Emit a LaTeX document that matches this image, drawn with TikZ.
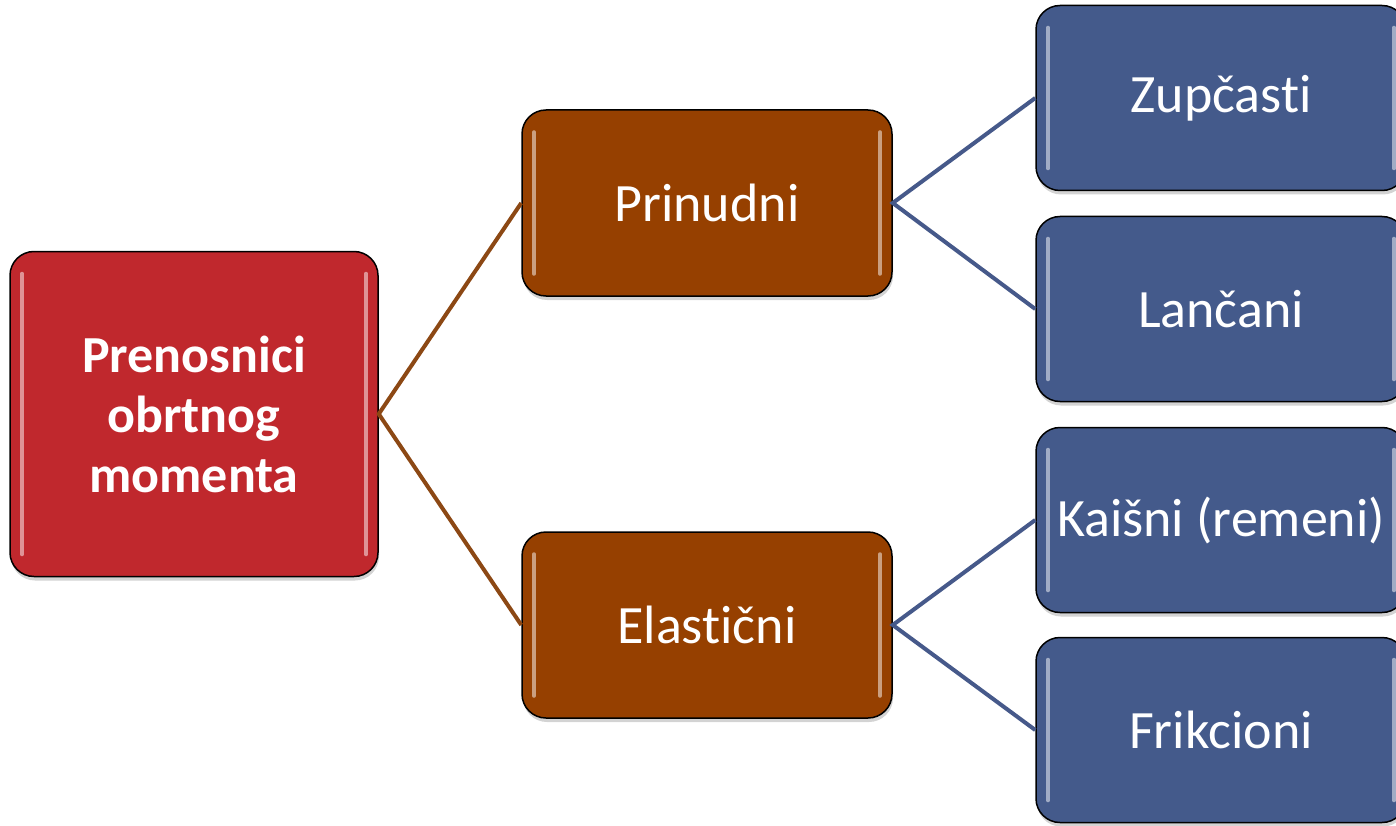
\documentclass[tikz,border=0pt]{standalone}
\usepackage{fontspec}
\setmainfont{Carlito}
\usetikzlibrary{shadows}
\newcommand{\tisep}{t\kern0pt i}
\definecolor{rootred}{RGB}{192,40,45}
\definecolor{midbrown}{RGB}{150,64,0}
\definecolor{leafblue}{RGB}{68,90,139}
\definecolor{linkbrown}{RGB}{140,72,20}
\definecolor{linkblue}{RGB}{70,89,138}
\begin{document}
\begin{tikzpicture}
[x=1pt, y=-1pt,
 box/.style={draw=black, line width=1.5pt, rounded corners=24pt, text=white, align=center,
   font=\fontsize{54}{60}\selectfont, inner sep=0pt,
   drop shadow={opacity=0.35, shadow xshift=1pt, shadow yshift=-4pt},
   path picture={
     \draw[white, opacity=0.5, line width=3.5pt, line cap=round]
       ([xshift=12pt, yshift=-22pt]path picture bounding box.north west) --
       ([xshift=12pt, yshift=22pt]path picture bounding box.south west);
     \draw[white, opacity=0.5, line width=3.5pt, line cap=round]
       ([xshift=-12pt, yshift=-22pt]path picture bounding box.north east) --
       ([xshift=-12pt, yshift=22pt]path picture bounding box.south east);}},
 rootbox/.style={box, fill=rootred, minimum width=368pt, minimum height=325pt,
   font=\fontsize{52}{60}\selectfont\bfseries},
 midbox/.style={box, fill=midbrown, minimum width=370pt, minimum height=186pt},
 leafbox/.style={box, fill=leafblue, minimum width=370pt, minimum height=185pt},
 brownlink/.style={draw=linkbrown, line width=4pt},
 bluelink/.style={draw=linkblue, line width=4pt}]
\useasboundingbox (0,0) rectangle (1396,826);
\node [rootbox] (root) at (194,414) {Prenosnici\\obrtnog\\momenta};
\node [midbox] (prin) at (707,203) {Prinudni};
\node [midbox] (elas) at (707,625) {Elas\tisep čni};
\node [leafbox] (zup) at (1221,98) {Zupčas\tisep};
\node [leafbox] (lan) at (1221,309) {Lančani};
\node [leafbox] (kai) at (1221,520) {Kaišni (remeni)};
\node [leafbox] (fri) at (1221,730) {Frikcioni};
\draw [brownlink] (prin.west) -- (root.east) -- (elas.west);
\draw [bluelink] (zup.west) -- (prin.east) -- (lan.west);
\draw [bluelink] (kai.west) -- (elas.east) -- (fri.west);
\end{tikzpicture}
\end{document}
